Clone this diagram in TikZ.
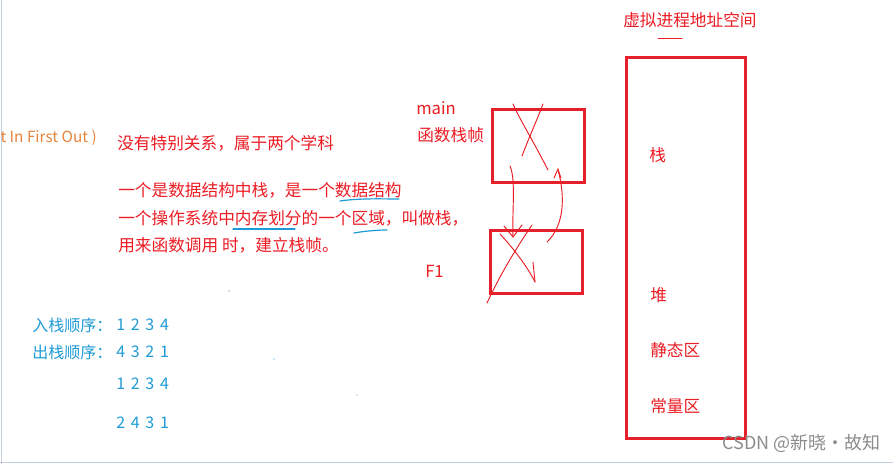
\documentclass[tikz,border=0pt]{standalone}
\usepackage{fontspec}
\setmainfont{Noto Sans CJK SC}
\usetikzlibrary{arrows.meta}
\definecolor{rd}{HTML}{EC1C24}
\definecolor{bx}{HTML}{E5202A}
\definecolor{bl}{HTML}{1E9BD7}
\definecolor{og}{HTML}{E8843C}
\definecolor{wm}{HTML}{8C8C8C}
\definecolor{edge}{HTML}{C4CEDD}
\tikzset{
  rt/.style={text=rd, font=\fontsize{12.5}{15}\selectfont, anchor=west, inner sep=0pt},
  bt/.style={text=bl, font=\fontsize{12}{14}\selectfont, anchor=west, inner sep=0pt},
  frame/.style={draw=bx, line width=2.4pt, inner sep=0pt},
  hand/.style={draw=rd, line width=0.7pt, line cap=round},
  uline/.style={draw=bl, line width=0.9pt, line cap=round},
}
\newcommand{\nums}[4]{#1\hspace{4.3pt}#2\hspace{4.3pt}#3\hspace{4.3pt}#4}
\begin{document}
\begin{tikzpicture}[x=0.75pt,y=-0.75pt]
\useasboundingbox (0,0) rectangle (893,464);
\fill[white] (0,0) rectangle (893,464);
% window edges
\draw[edge, line width=1.2pt] (1.5,0) -- (1.5,464);
\draw[edge, line width=1.2pt] (0,462.5) -- (893,462.5);

% left texts
\node[anchor=east, text=og, font=\fontsize{11.5}{13}\selectfont, inner sep=0pt] (fifo) at (97,138) {st In First Out )};
\node[rt] (t1) at (117,143) {没有特别关系，属于两个学科};
\node[rt] (t2) at (118,190) {一个是数据结构中栈，是一个数据结构};
\node[rt] (t3) at (118,218) {一个操作系统中内存划分的一个区域，叫做栈，};
\node[rt] (t4) at (118,245) {用来函数调用 时，建立栈帧。};
\draw[uline] (340,201) .. controls (360,198) and (385,199) .. (399,199);
\draw[uline] (233,229) -- (295,229);
\draw[uline] (354,233) .. controls (365,231) and (378,230) .. (387,230);

% stack frames
\node[rt] (main) at (416,108) {main};
\node[rt] (mainlbl) at (417,135) {函数栈帧};
\node[rt] (f1) at (425,271) {F1};
\node[frame, minimum width=92pt*0.75, minimum height=73pt*0.75, anchor=north west] (b1) at (491,108) {};
\node[frame, minimum width=92pt*0.75, minimum height=63pt*0.75, anchor=north west] (b2) at (489,229) {};

% hand-drawn crosses and arrows
\draw[hand] (513,104) .. controls (520,120) and (530,135) .. (548,170);
\draw[hand] (543,104) .. controls (537,120) and (530,135) .. (522,156);
\draw[hand] (510,166) .. controls (516,180) and (512,210) .. (513,237);
\draw[hand] (504,226) -- (513,237) -- (522,225);
\draw[hand] (547,242) .. controls (565,225) and (565,195) .. (558,170);
\draw[hand] (554,178) -- (558,169) -- (561,178);
\draw[hand] (500,234) .. controls (515,250) and (528,268) .. (535,282);
\draw[hand] (533,262) -- (535,282);
\draw[hand] (532,225) .. controls (515,250) and (500,275) .. (487,303);

% virtual address space
\node[rt] (vas) at (623,20) {虚拟进程地址空间};
\draw[hand] (658,38) -- (682,38);
\node[frame, minimum width=119pt*0.75, minimum height=381pt*0.75, anchor=north west] (space) at (625,56) {};
\node[rt] (s1) at (649,155) {栈};
\node[rt] (s2) at (650,295) {堆};
\node[rt] (s3) at (650,350) {静态区};
\node[rt] (s4) at (650,406) {常量区};

% blue orders
\node[bt] (in) at (32,325) {入栈顺序：};
\node[bt] (inn) at (116,325) {\nums1234};
\node[bt] (out) at (32,352) {出栈顺序：};
\node[bt] (outn) at (116,352) {\nums4321};
\node[bt] (n3) at (116,384) {\nums1234};
\node[bt] (n4) at (116,423) {\nums2431};

% stray dots
\fill[black!60] (229,291) circle (0.6);
\fill[bl] (274,359) circle (0.6);
\fill[black!40] (357,395) circle (0.6);

% watermark
\node[anchor=west, text=wm, font=\fontsize{13.5}{15}\selectfont, inner sep=0pt] (wmk) at (722,443) {CSDN @新晓·故知};
\end{tikzpicture}
\end{document}
